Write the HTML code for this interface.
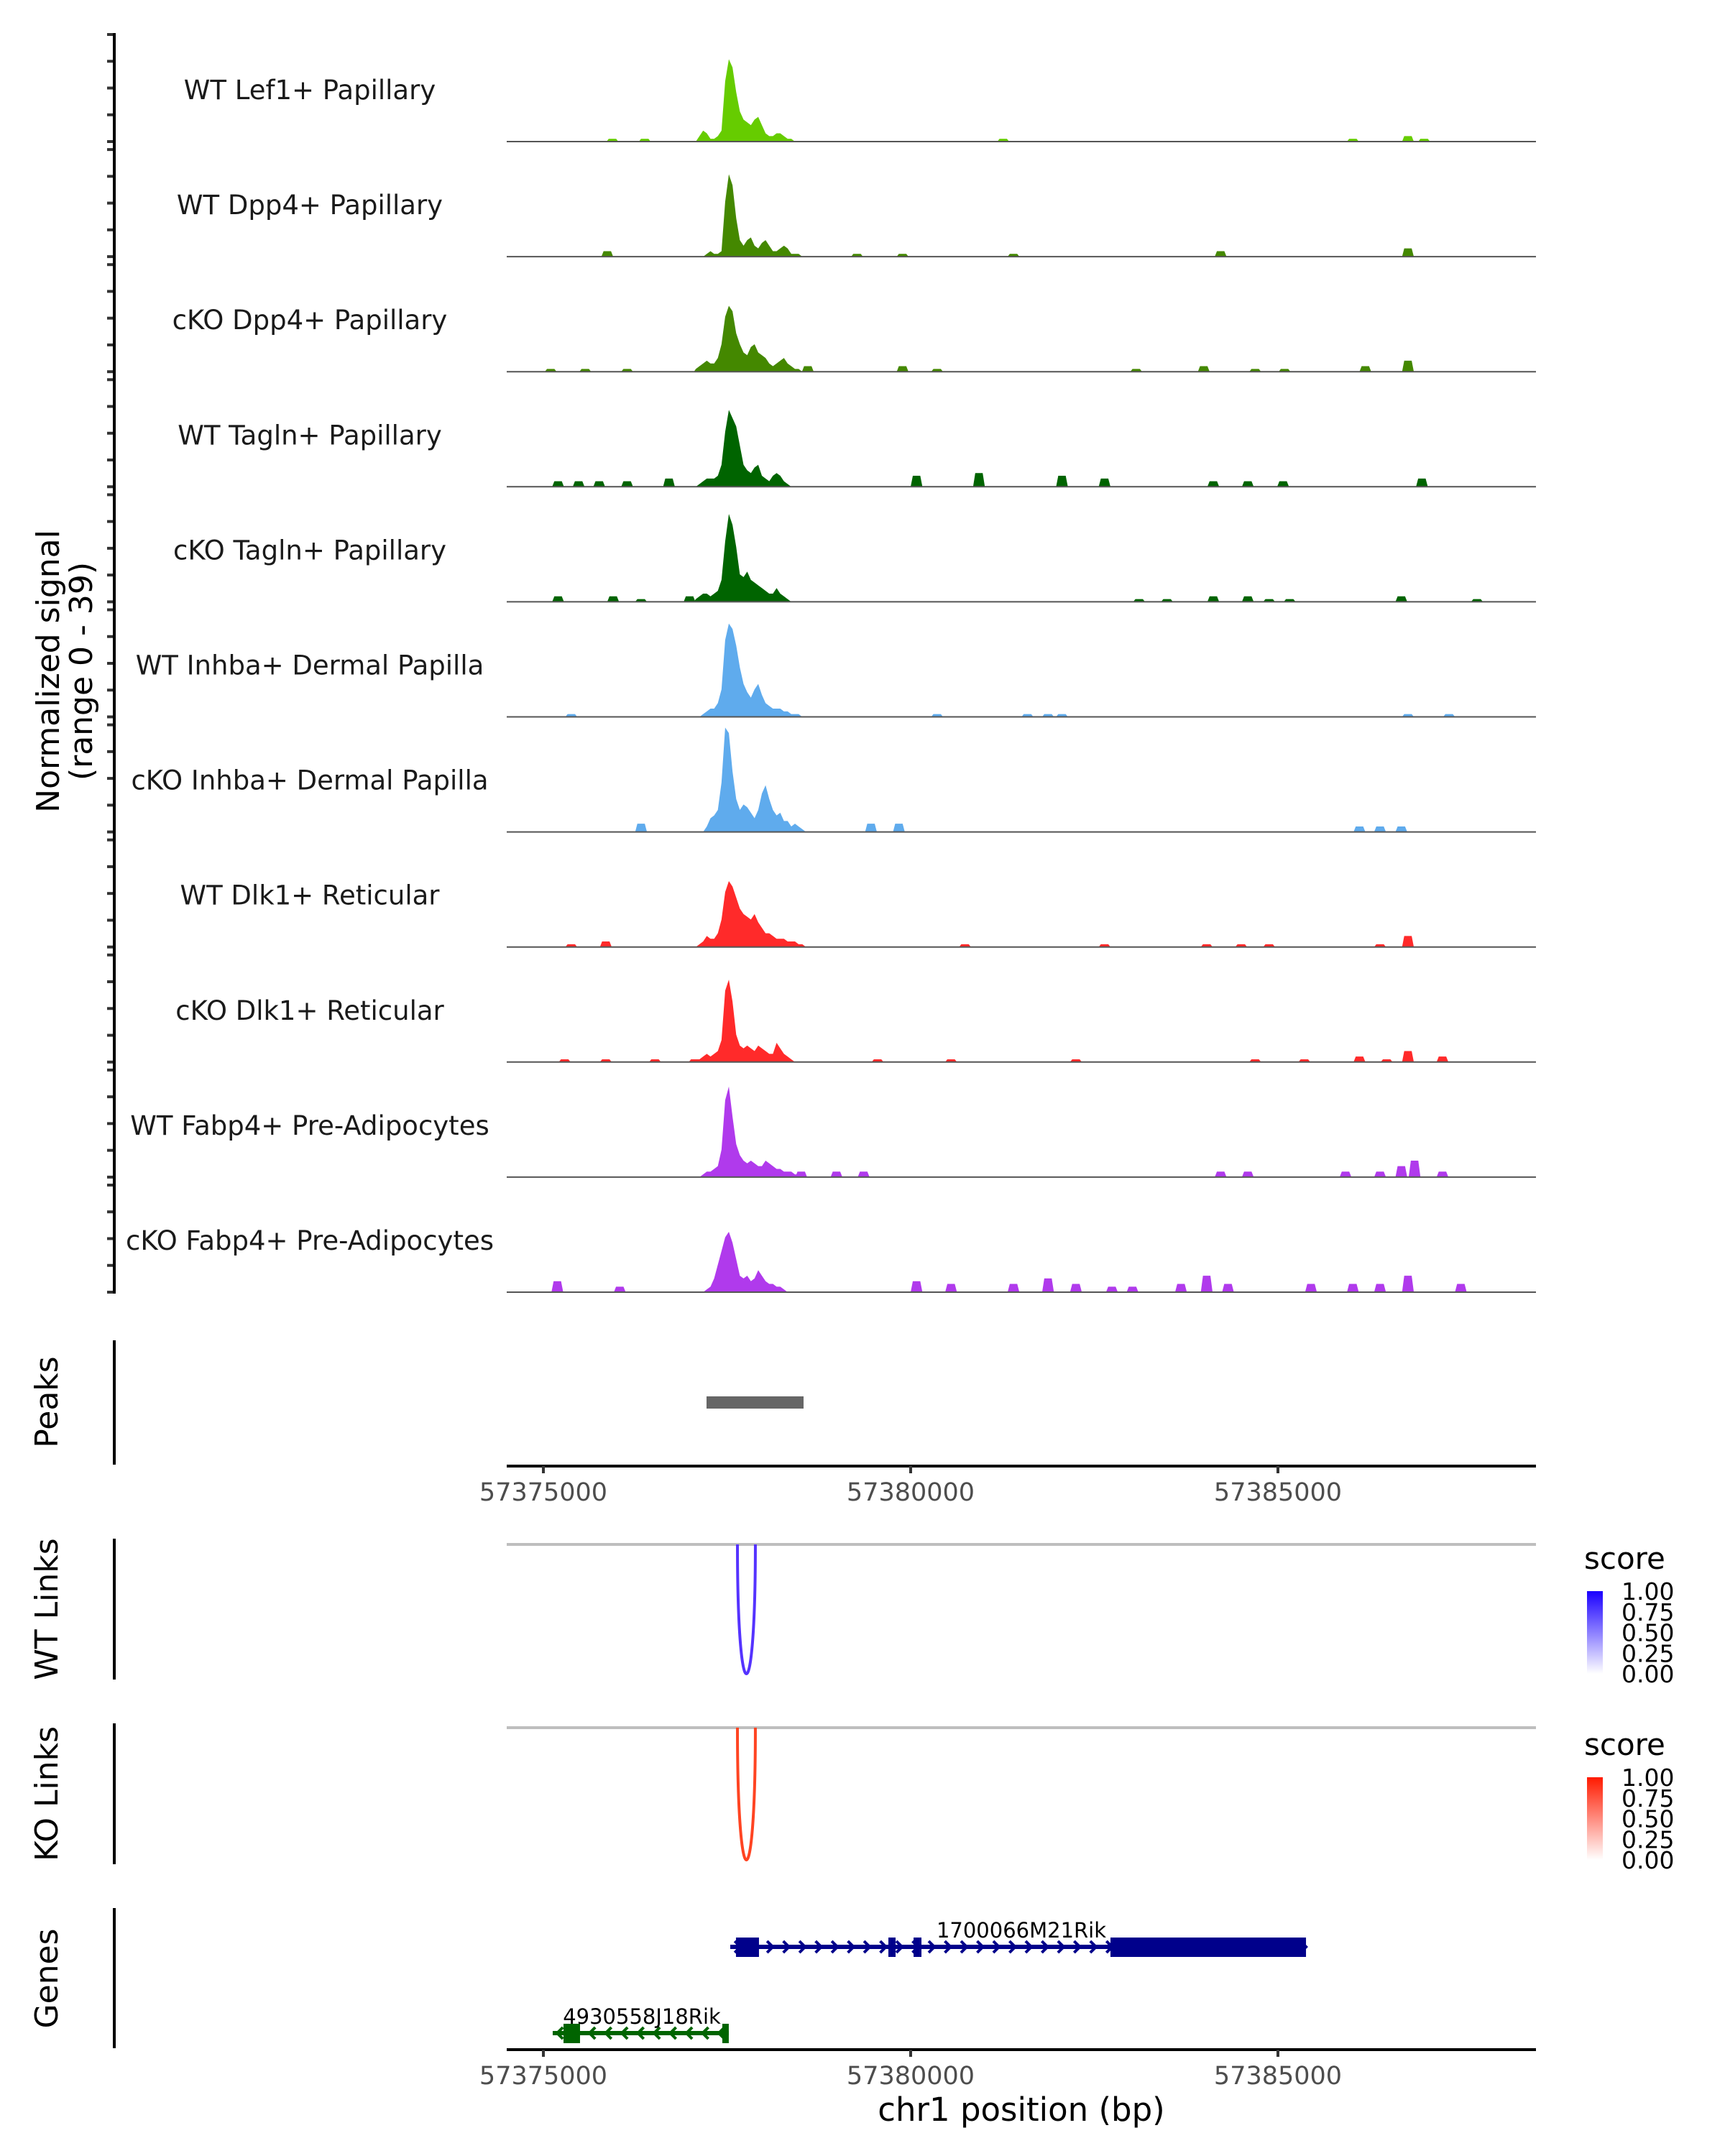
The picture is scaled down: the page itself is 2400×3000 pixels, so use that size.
<!DOCTYPE html>
<html><head><meta charset="utf-8"><style>
html,body{margin:0;padding:0;background:#fff;}
svg{display:block;font-family:"DejaVu Sans","Liberation Sans",sans-serif;}
</style></head><body>
<svg id="chart" width="2400" height="3000" viewBox="0 0 2400 3000" xmlns="http://www.w3.org/2000/svg">
<defs>
<linearGradient id="gBlue" x1="0" y1="1" x2="0" y2="0"><stop offset="0" stop-color="#ffffff"/><stop offset="1" stop-color="#1a00ff"/></linearGradient>
<linearGradient id="gRed" x1="0" y1="1" x2="0" y2="0"><stop offset="0" stop-color="#ffffff"/><stop offset="1" stop-color="#ff1a00"/></linearGradient>
</defs>
<g id="tracks"></g>
<text transform="translate(82,934) rotate(-90)" text-anchor="middle" font-size="44" fill="#000">Normalized signal</text>
<text transform="translate(128,934) rotate(-90)" text-anchor="middle" font-size="44" fill="#000">(range 0 - 39)</text>
<g id="lower"></g>
</svg>
<script>
// ----- data -----
const trackNames = ["WT Lef1+ Papillary","WT Dpp4+ Papillary","cKO Dpp4+ Papillary","WT Tagln+ Papillary","cKO Tagln+ Papillary","WT Inhba+ Dermal Papilla","cKO Inhba+ Dermal Papilla","WT Dlk1+ Reticular","cKO Dlk1+ Reticular","WT Fabp4+ Pre-Adipocytes","cKO Fabp4+ Pre-Adipocytes"];
const trackColors = ["#66cc00","#448800","#448800","#006400","#006400","#5fabed","#5fabed","#ff2a2a","#ff2a2a","#b03aec","#b03aec"];
const mainStart = 57377050;
const mainStep = 50;
const mainLef1 = [0,2,4,3,1,1,2,4,22,30,27,18,11,8,7,6,8,9,6,3,2,2,3,3,2,1,1,0,0,0,0,0,0,0,0,0,0];
const mainWtDpp4 = [0,0,0,1,2,1,1,2,20,30,26,14,6,4,6,7,4,3,5,6,4,2,2,3,4,3,1,1,1,0,0,0,0,0,0,0,0];
const mainKoDpp4 = [1,2,3,4,3,3,5,10,20,24,22,14,10,7,6,9,10,7,6,5,3,2,3,4,5,3,2,1,1,0,0,0,0,0,0,0,0];
const mainWtTagln = [0,1,2,3,3,3,4,8,20,28,25,22,15,8,6,5,7,8,4,3,2,4,5,4,2,1,0,0,0,0,0,0,0,0,0,0,0];
const mainKoTagln = [1,2,3,3,2,3,4,8,22,32,28,20,10,9,11,8,7,6,5,4,3,3,5,3,2,1,0,0,0,0,0,0,0,0,0,0,0];
const mainWtInhba = [0,0,1,2,3,3,5,10,28,34,32,26,18,12,9,7,10,12,8,5,4,3,3,3,2,2,1,1,1,0,0,0,0,0,0,0,0];
const mainKoInhba = [0,0,0,2,5,6,8,18,38,36,22,12,8,10,9,7,5,8,14,17,12,8,6,7,4,4,2,3,2,1,0,0,0,0,0,0,0];
const mainWtDlk1 = [0,1,2,4,3,3,5,10,20,24,22,18,14,12,11,10,12,9,7,5,5,4,3,3,3,2,2,2,1,1,0,0,0,0,0,0,0];
const mainKoDlk1 = [1,1,2,3,2,3,4,8,26,30,22,10,6,5,6,5,4,6,5,4,3,3,7,5,3,2,1,0,0,0,0,0,0,0,0,0,0];
const mainWtFabp4 = [0,0,1,2,2,3,4,10,28,33,22,12,8,6,5,6,5,4,4,6,5,4,3,3,2,2,2,1,1,0,0,0,0,0,0,0,0];
const mainKoFabp4 = [0,0,0,1,2,5,10,15,20,22,18,12,6,5,6,4,5,8,6,4,3,3,2,2,1,0,0,0,0,0,0,0,0,0,0,0,0];
const mainValues = [mainLef1,mainWtDpp4,mainKoDpp4,mainWtTagln,mainKoTagln,mainWtInhba,mainKoInhba,mainWtDlk1,mainKoDlk1,mainWtFabp4,mainKoFabp4];
// scattered small peaks: positions (bp) and heights (signal)
const spotPos = [
 [57375940,57376380,57381260,57386020,57386770,57386990],
 [57375870,57379270,57379890,57381400,57384220,57386770],
 [57375100,57375570,57376140,57378600,57379890,57380360,57383070,57383990,57384690,57385090,57386190,57386770],
 [57375200,57375480,57375760,57376140,57376710,57380080,57380930,57382060,57382640,57384120,57384590,57385070,57386960],
 [57375200,57375950,57376330,57376990,57383110,57383490,57384120,57384590,57384880,57385160,57386680,57387710],
 [57375380,57380360,57381590,57381870,57382060,57386770,57387330],
 [57376330,57379460,57379840,57386110,57386390,57386680],
 [57375380,57375850,57380740,57382640,57384030,57384500,57384880,57386390,57386770],
 [57375290,57375850,57376520,57377060,57379550,57380550,57382250,57384690,57385360,57386110,57386480,57386770,57387240],
 [57378510,57378990,57379360,57384220,57384590,57385920,57386390,57386680,57386860,57387240],
 [57375190,57376040,57380080,57380550,57381400,57381870,57382250,57382740,57383020,57383680,57384030,57384320,57385450,57386020,57386390,57386770,57387490]
];
const spotVal = [
 [1,1,1,1,2,1],
 [2,1,1,1,2,3],
 [1,1,1,2,2,1,1,2,1,1,2,4],
 [2,2,2,2,3,4,5,4,3,2,2,2,3],
 [2,2,1,2,1,1,2,2,1,1,2,1],
 [1,1,1,1,1,1,1],
 [3,3,3,2,2,2],
 [1,2,1,1,1,1,1,1,4],
 [1,1,1,1,1,1,1,1,1,2,1,4,2],
 [2,2,2,2,2,2,2,4,6,2],
 [4,2,4,3,3,5,3,2,2,3,6,3,3,3,3,6,3]
];
const xTicks = [57375000,57380000,57385000];
const peakRegions = [[57377221,57378542]];
const wtLinks = [[57377642,57377886,1.0]];
const koLinks = [[57377642,57377886,1.0]];
const legendTicks = ["1.00","0.75","0.50","0.25","0.00"];
const gene1Exons = [[57377622,57377935],[57379697,57379795],[57380040,57380147],[57382720,57385382]];
const gene1Range = [57377544,57385382];
const gene2Exons = [[57375274,57375499],[57377436,57377524]];
const gene2Range = [57375127,57377524];

// ----- scales -----
const NS="http://www.w3.org/2000/svg";
const X0=705, X1=2137;
function xs(bp){return 756+(bp-57375000)*0.1022;}
const panelTop0=48, panelStep=160.1, panelH=149, maxSig=39;
function ys(v,base){return base - v/maxSig*panelH;}
function mk(tag,attrs,parent){const e=document.createElementNS(NS,tag);for(const k in attrs)e.setAttribute(k,attrs[k]);parent.appendChild(e);return e;}

const tg=document.getElementById('tracks');
trackNames.forEach((name,i)=>{
  const top=panelTop0+i*panelStep, base=top+panelH;
  const g=mk('g',{},tg);
  
  
  for(let k=0;k<5;k++){
    const t=mk('line',{x1:149,x2:159,y1:top+k*37.25,y2:top+k*37.25,stroke:'#333','stroke-width':4},g);
    
    
  }
  const lab=mk('text',{x:431,y:base-59,'text-anchor':'middle','font-size':37,fill:'#1a1a1a'},g);
  lab.textContent=name;
  
  
  const vals=mainValues[i];
  let d='M'+xs(mainStart)+','+base;
  vals.forEach((v,j)=>{
    const a=xs(mainStart+j*mainStep+25);
    d+=' L'+a+','+ys(v,base);
  });
  d+=' L'+xs(mainStart+vals.length*mainStep)+','+base+' Z';
  const p=mk('path',{d:d,fill:trackColors[i]},g);
  
  
  spotPos[i].forEach((bp,j)=>{
    const v=spotVal[i][j];
    const a=xs(bp-80), b=xs(bp+80);
    const sp=mk('path',{d:`M${a},${base} L${a+3},${ys(v,base)} L${b-3},${ys(v,base)} L${b},${base} Z`,fill:trackColors[i]},g);
    
    
  });
  const bl=mk('line',{x1:X0,x2:X1,y1:base,y2:base,stroke:'#555','stroke-width':2},g);
  
  
});
const ax=mk('line',{x1:159,x2:159,y1:46,y2:1800,stroke:'#000','stroke-width':4},tg);



const lg=document.getElementById('lower');
function vaxis(y1,y2,label,cy,nm){
  const l=mk('line',{x1:159,x2:159,y1:y1,y2:y2,stroke:'#000','stroke-width':4},lg);
  
  
  const t=mk('text',{transform:`translate(80,${cy}) rotate(-90)`,'text-anchor':'middle','font-size':44,fill:'#000'},lg);
  t.textContent=label;
  
  
}
vaxis(1865,2038,'Peaks',1951,'peaks');
vaxis(2141,2337,'WT Links',2239,'wt-links');
vaxis(2398,2594,'KO Links',2496,'ko-links');
vaxis(2655,2850,'Genes',2753,'genes');

peakRegions.forEach(r=>{
  const e=mk('rect',{x:xs(r[0]),y:1943,width:xs(r[1])-xs(r[0]),height:17,fill:'#666'},lg);
  
  
});
function xaxis(y,nm){
  const l=mk('line',{x1:X0,x2:X1,y1:y,y2:y,stroke:'#000','stroke-width':4},lg);
  
  
  xTicks.forEach(t=>{
    const tk=mk('line',{x1:xs(t),x2:xs(t),y1:y,y2:y+10,stroke:'#333','stroke-width':4},lg);
    
    
    const tl=mk('text',{x:xs(t),y:y+48,'text-anchor':'middle','font-size':35,fill:'#4d4d4d'},lg);
    tl.textContent=t;
    
    
  });
}
xaxis(2040,'peaks-x-axis');
xaxis(2852,'genes-x-axis');
const xt=mk('text',{x:1421,y:2951,'text-anchor':'middle','font-size':45,fill:'#000'},lg);
xt.textContent='chr1 position (bp)';



function links(arr,lineY,bottomY,color,nm){
  const g=mk('line',{x1:X0,x2:X1,y1:lineY,y2:lineY,stroke:'#bebebe','stroke-width':4},lg);
  
  
  arr.forEach(a=>{
    const x1=xs(a[0]), x2=xs(a[1]);
    const cy=lineY+(bottomY-lineY)/0.75*a[2];
    const p=mk('path',{d:`M${x1},${lineY} C${x1},${cy} ${x2},${cy} ${x2},${lineY}`,fill:'none',stroke:color,'stroke-width':4},lg);
    
    
  });
}
links(wtLinks,2149,2329,'#5533ff','wt-link');
links(koLinks,2404,2588,'#ff4422','ko-link');

function legend(y0,grad,nm){
  const t=mk('text',{x:2204,y:y0,'font-size':42,fill:'#000'},lg);
  t.textContent='score';
  
  
  const r=mk('rect',{x:2208,y:y0+31,width:22,height:115,fill:`url(#${grad})`},lg);
  
  
  legendTicks.forEach((s,k)=>{
    const yy=y0+31+k*28.75;
    const tx=mk('text',{x:2256,y:yy+12,'font-size':33,fill:'#000'},lg);
    tx.textContent=s;
    
    
  });
}
legend(2183,'gBlue','wt');
legend(2442,'gRed','ko');

function gene(range,exons,y,color,dir,label,labelX,nm){
  const g=mk('g',{},lg);
  
  
  mk('line',{x1:xs(range[0]),x2:xs(range[1]),y1:y,y2:y,stroke:color,'stroke-width':6},g);
  for(let bp=range[0]+100;bp<range[1];bp+=220){
    const x=xs(bp);
    mk('path',{d:dir>0?`M${x-4},${y-8} L${x+4},${y} L${x-4},${y+8}`:`M${x+4},${y-8} L${x-4},${y} L${x+4},${y+8}`,fill:'none',stroke:color,'stroke-width':4},g);
  }
  exons.forEach(e=>{
    const ex=mk('rect',{x:xs(e[0]),y:y-13,width:xs(e[1])-xs(e[0]),height:27,fill:color},g);
    
    
  });
  const t=mk('text',{x:labelX,y:y-13,'text-anchor':'middle','font-size':29,fill:'#000'},g);
  t.textContent=label;
  
  
}
gene(gene1Range,gene1Exons,2709,'#00008b',1,'1700066M21Rik',1421,'gene-1700066M21Rik');
gene(gene2Range,gene2Exons,2829,'#006400',-1,'4930558J18Rik',893,'gene-4930558J18Rik');
</script>
</body></html>
